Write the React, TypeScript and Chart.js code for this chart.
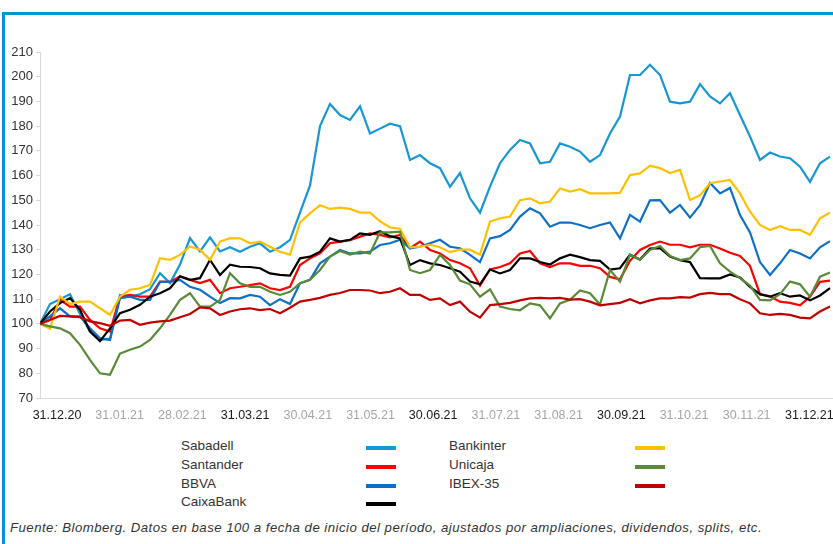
import React, { useEffect, useRef } from "react";
import { Chart, registerables } from "chart.js";

Chart.register(...registerables);

// ---- Data (base 100 at 31.12.20), sampled along the period ----
const seriesNames = ["Sabadell", "Santander", "BBVA", "CaixaBank", "Bankinter", "Unicaja", "IBEX-35"];

const sabadell = [
  100, 108, 110, 112, 104, 97, 93.5, 94, 111.7, 111, 112, 114, 120.5, 116.5, 124, 134.7, 129.3, 135, 129.3, 131,
  129.2, 131.2, 132.6, 129.2, 131, 134, 145, 156, 180, 189, 184.5, 182.5, 188, 177, 179, 181, 180, 166.3, 168.3, 165,
  163, 155.5, 161, 150.8, 145, 155.5, 165, 170.4, 174.4, 173, 165, 165.6, 173, 171.7, 169.7, 165.6, 168.3, 177, 183.9, 200.7,
  200.7, 204.8, 200.7, 189.9, 189.2, 189.9, 197, 192, 189.2, 193.3, 184.5, 175.8, 166.3, 169.3, 167.7, 167, 163.6, 157.5, 165, 167.7,
];
const santander = [
  100, 101.6, 109.7, 107, 107, 101.6, 98.2, 96.9, 111, 111.7, 111, 111, 117.1, 117, 119.2, 117.8, 116.5, 117.8, 112.4, 114.4,
  115, 115.7, 116.4, 114.4, 113.7, 115, 123.8, 126.5, 128.5, 132.6, 133.3, 133.9, 135.3, 136.6, 136, 135, 136, 130.6, 133.3, 129.9,
  128.5, 125.8, 124.5, 122.5, 115.5, 122, 123, 124.5, 128.5, 129.5, 124.5, 123, 124.5, 124.5, 123.5, 123.5, 122.5, 119, 118, 125.5,
  129.9, 131.9, 133.3, 132, 132, 131, 132, 132, 130.5, 128.8, 127.5, 123.5, 112, 111.2, 109, 108.5, 107.5, 111, 117, 117.5,
];
const bbva = [
  100, 103, 106.3, 103, 103, 98.2, 94.2, 93.5, 110.4, 111, 109.7, 109.7, 117, 117, 117.8, 115, 113.8, 111, 108.4, 110.4,
  110.3, 111.7, 111, 107.6, 110, 108, 116.4, 117.8, 124.5, 127.2, 129.9, 128.5, 128.5, 129.2, 131.9, 132.6, 134, 130.6, 131.2, 132.6,
  134, 131.2, 130.6, 127.9, 125, 134.6, 135.5, 138, 143.4, 146.8, 144.7, 139.3, 141, 141, 140, 138.7, 140, 141, 134.6, 144.1,
  141.4, 150, 150.1, 145, 148.1, 143, 148, 157, 152.8, 155, 144, 137, 125, 119.8, 124.5, 129.9, 128.5, 126.5, 131, 133.5,
];
const caixaBank = [
  100, 105, 108.4, 110.4, 105.7, 96.9, 93, 98.2, 104.3, 105.7, 107.7, 111, 112.4, 114.4, 119.2, 117.8, 118.5, 125.9, 119.8, 123.9,
  123.1, 123, 122.5, 120.4, 119.8, 119.5, 126.5, 127.2, 129.2, 134.6, 133.3, 134, 136.6, 136, 137.5, 135.5, 134.6, 123.8, 125.8, 124.5,
  123.8, 122.5, 121.1, 117.1, 116, 122, 120.4, 121.8, 126.5, 126.5, 125, 124, 126.5, 128, 127, 125.8, 125.5, 122, 122.5, 128,
  126, 130.5, 130.6, 127.2, 125.8, 125, 118.5, 118.4, 118.4, 120, 118.8, 115, 112, 111, 112.4, 111, 111.5, 109.5, 111.5, 114.5,
];
const bankinter = [
  100, 98, 111, 108, 109, 109, 106.3, 103.6, 111, 113.8, 114.4, 115.8, 126.6, 125.9, 127.9, 131.3, 130, 125.9, 133.3, 134.7,
  134.6, 132.6, 133.3, 131.2, 129.2, 128, 141, 144.7, 148, 146.5, 147, 146.5, 145, 145, 141.5, 139, 138.5, 131, 131.2, 132,
  131, 129, 130, 130, 128, 141.4, 142.7, 143.4, 150, 150.8, 148.8, 149.5, 154.8, 153.5, 154.5, 152.8, 152.8, 152.8, 153, 160.2,
  160.9, 164, 163, 161, 162.3, 150.1, 152, 156.9, 157.6, 158.2, 152.8, 145.4, 140, 138, 139.5, 138, 138, 136, 142.7, 145,
];
const unicaja = [
  100, 99, 98.2, 96.2, 91.5, 85.4, 80, 79.4, 88, 89.5, 90.8, 93.5, 98.2, 103.6, 109.7, 112.4, 107, 107, 109.7, 120.5,
  116.4, 115, 115, 113, 111.7, 113, 116.4, 117.8, 121.8, 127.2, 129.5, 128, 129.2, 128.5, 137, 137, 137.3, 121.8, 120.5, 121.8,
  127.9, 123.8, 117.5, 116, 111, 114, 107, 106, 105.5, 108.3, 107.5, 102.2, 108.3, 109.7, 113.5, 112.4, 107.8, 121.8, 117.1, 128,
  126, 129.9, 131.5, 127.5, 125.8, 126.5, 131, 131.5, 124.5, 121.1, 118.5, 115.5, 109.7, 109.5, 112, 117.1, 116, 111, 119.1, 120.8,
];
const ibex35 = [
  100, 101.6, 103.2, 103, 102.7, 101, 100.3, 99.2, 101.3, 101.6, 99.6, 100.5, 101, 101.3, 102.7, 104, 106.7, 106.3, 103.6, 105,
  105.9, 106.3, 105.6, 106, 104.3, 106.5, 109, 109.7, 110.5, 111.7, 112.5, 113.7, 113.7, 113.5, 112.4, 113, 114.4, 111.7, 111.7, 109.7,
  110.3, 107.6, 109, 104.9, 102.5, 107.6, 108, 108.5, 109.5, 110.3, 110.5, 110.3, 110.5, 109.8, 110, 109, 107.5, 108, 108.5, 110,
  108.3, 109.5, 110.3, 110.3, 110.8, 110.6, 112, 112.5, 112, 112, 110, 108.3, 104.3, 103.6, 104, 103.6, 102.5, 102.2, 105, 107,
];

const monthLabels = [
  "31.12.20", "31.01.21", "28.02.21", "31.03.21", "30.04.21", "31.05.21", "30.06.21",
  "31.07.21", "31.08.21", "30.09.21", "31.10.21", "30.11.21", "31.12.21",
];
const quarterEndLabels = ["31.12.20", "31.03.21", "30.06.21", "30.09.21", "31.12.21"];
const yMin = 70;
const yMax = 210;
const yStep = 10;

// ---- Styling ----
const seriesValues = [sabadell, santander, bbva, caixaBank, bankinter, unicaja, ibex35];
const seriesColors = ["#1697d3", "#ff0000", "#0f6fc4", "#000000", "#ffc000", "#588a38", "#c00000"];
const samplesPerMonth = 6.27;
const FONT = "'Liberation Sans', Arial, Helvetica, sans-serif";
const TEXT = "#333333";

export default function App() {
  const canvasRef = useRef<HTMLCanvasElement | null>(null);

  useEffect(() => {
    const canvas = canvasRef.current;
    if (!canvas) return;
    const lastIndex = sabadell.length - 1;
    const chart = new Chart(canvas, {
      type: "line",
      data: {
        datasets: seriesNames.map((name, s) => ({
          label: name,
          data: seriesValues[s].map((v, i) => ({ x: i, y: v })),
          borderColor: seriesColors[s],
          backgroundColor: seriesColors[s],
          borderWidth: 2.2,
          pointRadius: 0,
          tension: 0,
          order: seriesNames.length - s,
        })),
      },
      options: {
        responsive: false,
        animation: false,
        devicePixelRatio: 1,
        layout: { padding: { top: 52, left: 0, right: 0, bottom: 0 } },
        plugins: { legend: { display: false }, tooltip: { enabled: false } },
        scales: {
          x: {
            type: "linear",
            min: 0,
            max: lastIndex + 0.3,
            grid: { display: false, drawTicks: false },
            border: { display: true, color: "#d9d9d9", width: 1 },
            afterBuildTicks: (scale: any) => {
              scale.ticks = monthLabels.map((_, k) => ({ value: k * samplesPerMonth }));
            },
            afterFit: (scale: any) => {
              scale.height = 27;
            },
            ticks: {
              autoSkip: false,
              maxRotation: 0,
              padding: 10,
              labelOffset: 17,
              font: { family: FONT, size: 12.5 },
              color: (ctx: any) =>
                quarterEndLabels.includes(monthLabels[ctx.index]) ? "#1a1a1a" : "#a6a6a6",
              callback: (_v: any, index: number) => monthLabels[index],
            },
          },
          y: {
            min: yMin,
            max: yMax,
            grid: { display: true, drawOnChartArea: false, drawTicks: true, tickLength: 4, color: "#d9d9d9" },
            border: { display: true, color: "#d9d9d9", width: 1 },
            afterFit: (scale: any) => {
              scale.width = 40;
            },
            ticks: {
              stepSize: yStep,
              padding: 3,
              font: { family: FONT, size: 13 },
              color: TEXT,
            },
          },
        },
      },
    });
    return () => chart.destroy();
  }, []);

  const legendCols = [
    { textLeft: 181, swatchLeft: 366 },
    { textLeft: 449, swatchLeft: 635 },
  ];

  return (
    <div
      style={{
        position: "absolute",
        left: 0,
        top: 0,
        width: 833,
        height: 544,
        overflow: "hidden",
        background: "#ffffff",
        fontFamily: FONT,
      }}
    >
      <div
        style={{
          position: "absolute",
          left: 2,
          top: 12,
          width: 900,
          height: 600,
          borderLeft: "3px solid #0096d6",
          borderTop: "3px solid #0096d6",
        }}
      />
      <canvas
        ref={canvasRef}
        width={833}
        height={425}
        style={{ position: "absolute", left: 0, top: 0, width: 833, height: 425 }}
      />
      {seriesNames.map((name, s) => {
        const col = s < 4 ? 0 : 1;
        const row = s < 4 ? s : s - 4;
        const top = 436 + row * 18.8;
        return (
          <React.Fragment key={name}>
            <div
              style={{
                position: "absolute",
                left: legendCols[col].textLeft,
                top,
                fontSize: 13.5,
                lineHeight: "19px",
                color: TEXT,
                whiteSpace: "nowrap",
              }}
            >
              {name}
            </div>
            <div
              style={{
                position: "absolute",
                left: legendCols[col].swatchLeft,
                top: top + 10,
                width: 30,
                height: 4,
                background: seriesColors[s],
              }}
            />
          </React.Fragment>
        );
      })}
      <div
        style={{
          position: "absolute",
          left: 10,
          top: 518,
          fontSize: 13.2,
          letterSpacing: "0.48px",
          lineHeight: "19px",
          fontStyle: "italic",
          color: TEXT,
          whiteSpace: "nowrap",
        }}
      >
        Fuente: Blomberg. Datos en base 100 a fecha de inicio del período, ajustados por ampliaciones, dividendos, splits, etc.
      </div>
    </div>
  );
}
